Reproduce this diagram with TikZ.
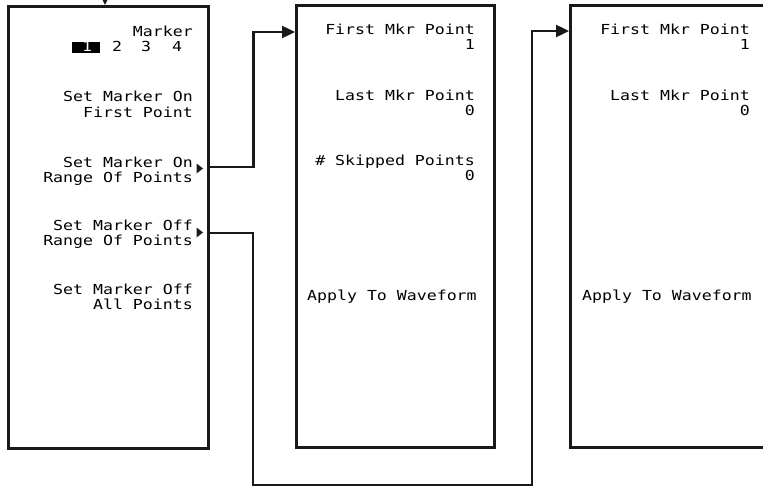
\documentclass[tikz,border=0pt]{standalone}
\usepackage{fontspec}
\newfontfamily\hpfont[FakeStretch=1.2]{DejaVu Sans Mono}
\usetikzlibrary{arrows.meta,positioning,calc}

\begin{document}
\begin{tikzpicture}[x=1pt, y=-1pt, >={Triangle[length=13pt,width=12pt]},
  menu/.style={draw=black!90, line width=2.6pt, minimum width=#1,
    minimum height=442pt, anchor=north west, inner sep=0pt},
  key/.style={font=\fontsize{13.8}{15}\hpfont, align=right,
    anchor=base east, inner sep=0pt},
  lkey/.style={font=\fontsize{13.8}{15}\hpfont, anchor=base west, inner sep=0pt},
  digit/.style={font=\fontsize{13.8}{15}\hpfont, anchor=base, inner sep=0pt},
  conn/.style={line width=2.4pt, black!90},
  more/.style={fill=black!90},
]
\clip (0,0) rectangle (763,487);

%% Marker menu
\node[menu=200pt] (mkr) at (7,5) {};
\node[key] (mkrlbl) at (193,37) {Marker};
\node[fill=black, minimum width=28pt, minimum height=11pt, inner sep=0pt] (sel) at (86,47.5) {};
\node[digit, white] (d1) at (87,52) {1};
\node[digit] (d2) at (117,52) {2};
\node[digit] (d3) at (146,52) {3};
\node[digit] (d4) at (177,52) {4};
\node[key] (first) at (193,117) {Set Marker On\\First Point};
\node[key] (rngon) at (193,182) {Set Marker On\\Range Of Points};
\node[key] (rngoff) at (193,245) {Set Marker Off\\Range Of Points};
\node[key] (alloff) at (193,309) {Set Marker Off\\All Points};

%% More-key triangles
\fill[more] (196.5,163.5) -- (203,168.5) -- (196.5,173.5) -- cycle;
\fill[more] (196.5,227.5) -- (203,232.5) -- (196.5,237.5) -- cycle;

%% Range-on menu
\node[menu=198pt] (onmenu) at (295,4) {};
\node[key] (onfirst) at (475,50) {First Mkr Point\\1};
\node[key] (onlast) at (475,115) {Last Mkr Point\\0};
\node[key] (onskip) at (475,180) {\# Skipped Points\\0};
\node[lkey] (onapply) at (307,300) {Apply To Waveform};

%% Range-off menu
\node[menu=200pt] (offmenu) at (569,4) {};
\node[key] (offfirst) at (750,50) {First Mkr Point\\1};
\node[key] (offlast) at (750,115) {Last Mkr Point\\0};
\node[lkey] (offapply) at (582,300) {Apply To Waveform};

%% Connectors
\coordinate (entry) at (105,-20);
\coordinate (onkey) at (mkr.east |- 0,167);
\coordinate (offkey) at (mkr.east |- 0,233);
\coordinate (onin) at (onmenu.west |- 0,32);
\coordinate (offin) at (offmenu.west |- 0,31);
\coordinate (loop) at (253,485);
\coordinate (back) at (532,31);

\draw[conn,->] (entry) -- (entry |- mkr.north);
\draw[conn,->] (onkey) -- ++(44,0) |- (onin);
\draw[conn,->] (offkey) -| (loop) -| (back) -- (offin);

\end{tikzpicture}
\end{document}
